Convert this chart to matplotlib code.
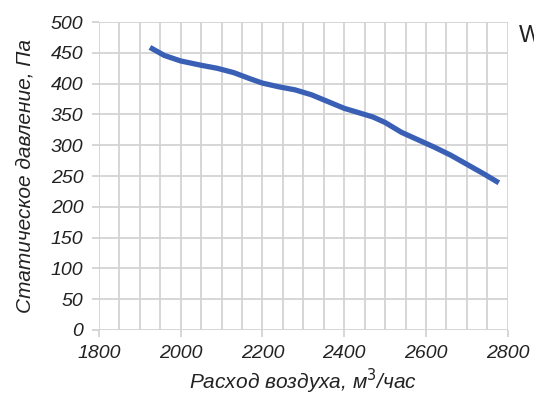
import matplotlib
matplotlib.use('Agg')
import matplotlib.pyplot as plt

# flow rate, m3/h and static pressure, Pa
flow = [1925, 1960, 2000, 2050, 2090, 2130, 2170, 2200, 2240, 2280, 2320,
        2360, 2400, 2440, 2470, 2500, 2540, 2580, 2620, 2660, 2700, 2740, 2778]
pressure = [459, 446, 437, 430, 425, 418, 408, 401, 395, 390, 382,
            371, 360, 352, 346, 337, 321, 309, 297, 284, 269, 254, 239]

x_ticks = [1800, 2000, 2200, 2400, 2600, 2800]
y_ticks = [0, 50, 100, 150, 200, 250, 300, 350, 400, 450, 500]

plt.rcParams['font.family'] = ['Liberation Sans', 'DejaVu Sans']

fig = plt.figure(figsize=(5.34, 3.96), dpi=100)
ax = fig.add_axes([0.185, 0.167, 0.766, 0.777])

ax.plot(flow, pressure, color='#3a60b6', linewidth=3.8, solid_capstyle='butt',
        solid_joinstyle='round', zorder=3)

ax.set_xlim(1800, 2800)
ax.set_ylim(0, 500)
ax.set_xticks(x_ticks)
ax.set_yticks(y_ticks)
ax.set_xticks(range(1800, 2801, 50), minor=True)

ax.grid(True, which='both', color='#d3d3d3', linewidth=1.3)
ax.set_axisbelow(True)
for s in ax.spines.values():
    s.set_visible(False)
ax.tick_params(axis='x', which='major', length=5, width=1.3, color='#d3d3d3', pad=6)
ax.tick_params(axis='x', which='minor', length=0)
ax.tick_params(axis='y', length=5, width=1.3, color='#d3d3d3', pad=6)
for lab in ax.get_xticklabels() + ax.get_yticklabels():
    lab.set_fontstyle('italic')
    lab.set_fontsize(14)
    lab.set_color('#222222')

ax.set_xlabel('Расход воздуха, м$^3$/час', fontsize=15, fontstyle='italic', color='#222222', labelpad=3)
ax.set_ylabel('Статическое давление, Па', fontsize=15, fontstyle='italic', color='#222222', labelpad=12)

fig.text(0.972, 0.91, 'W', fontsize=17, color='#222222', va='center', ha='left')

fig.savefig('out.png', dpi=100)
